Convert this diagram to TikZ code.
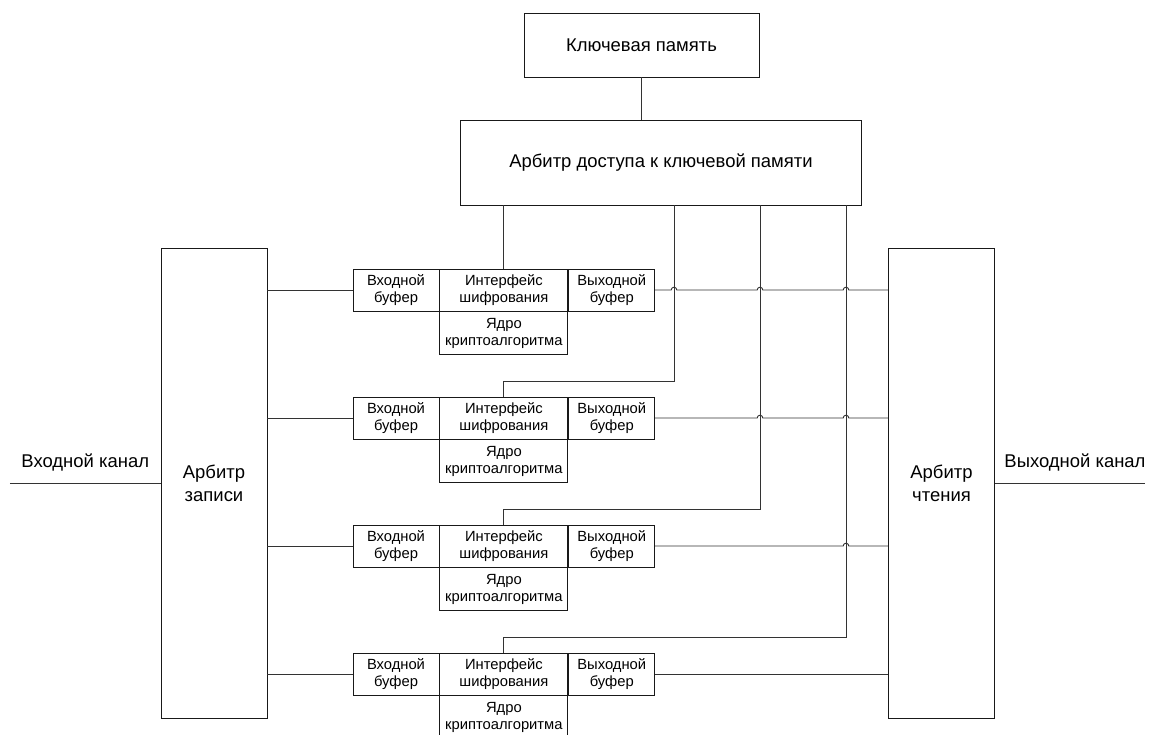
\documentclass[tikz,border=0pt]{standalone}
\usepackage{fontspec}
\setmainfont{Liberation Sans}
\usetikzlibrary{positioning}
\tikzset{
  block/.style={rectangle,draw=black!90,line width=0.5pt,align=center,inner sep=0pt,font=\fontsize{10.5}{13}\selectfont},
  cell/.style={block,minimum height=0.84cm,font=\fontsize{8.4}{10}\selectfont},
  buffer/.style={cell,minimum width=1.72cm},
  iface/.style={cell,minimum width=2.56cm},
  arbiter/.style={block,minimum width=2.12cm,minimum height=9.4cm},
  wire/.style={line width=0.5pt,black!80},
  channel/.style={text=black,font=\fontsize{10.5}{13}\selectfont,inner sep=0pt},
}

\begin{document}
\begin{tikzpicture}
	\useasboundingbox (0,0) rectangle (23.02,-14.68);
	\node[block,minimum width=4.7cm,minimum height=1.28cm] (keymem) at (12.83,-0.9) {Ключевая память};
	\node[block,minimum width=8.02cm,minimum height=1.7cm] (keyarb) at (13.22,-3.25) {Арбитр доступа к ключевой памяти};
	\node[arbiter] (wrarb) at (4.28,-9.66) {Арбитр\\записи};
	\node[arbiter] (rdarb) at (18.83,-9.66) {Арбитр\\чтения};
	\draw[wire] (keymem.south) -- (keymem.south |- keyarb.north);

	% crypto units
	\foreach \i in {1,...,4} {
	    \node[buffer] (inbuf\i) at (7.92,{-5.8-2.56*(\i-1)}) {Входной\\буфер};
	    \node[iface,right=0pt of inbuf\i] (iface\i) {Интерфейс\\шифрования};
	    \node[buffer,right=0pt of iface\i] (outbuf\i) {Выходной\\буфер};
	    \node[iface,minimum height=0.86cm,below=0pt of iface\i] (core\i) {Ядро\\криптоалгоритма};
	    \draw[wire] (wrarb.east |- inbuf\i.west) -- (inbuf\i.west);
	}

	% key taps
	\coordinate (key1) at (iface1.north |- keyarb.south);
	\coordinate (key2) at (13.48,-4.1);
	\coordinate (key3) at (15.2,-4.1);
	\coordinate (key4) at (16.92,-4.1);
	\draw[wire] (key1) -- (iface1.north);
	\draw[wire] (key2) |- ([yshift=0.3cm]iface2.north) -- (iface2.north);
	\draw[wire] (key3) |- ([yshift=0.3cm]iface3.north) -- (iface3.north);
	\draw[wire] (key4) |- ([yshift=0.3cm]iface4.north) -- (iface4.north);

	% outputs, hopping over the key taps
	\draw[wire] (outbuf1.east) \foreach \k in {2,3,4} { -- ([xshift=-1.6pt]key\k |- outbuf1.east) arc[start angle=180,end angle=0,radius=1.6pt] } -- (rdarb.west |- outbuf1.east);
	\draw[wire] (outbuf2.east) \foreach \k in {3,4} { -- ([xshift=-1.6pt]key\k |- outbuf2.east) arc[start angle=180,end angle=0,radius=1.6pt] } -- (rdarb.west |- outbuf2.east);
	\draw[wire] (outbuf3.east) -- ([xshift=-1.6pt]key4 |- outbuf3.east) arc[start angle=180,end angle=0,radius=1.6pt] -- (rdarb.west |- outbuf3.east);
	\draw[wire] (outbuf4.east) -- (rdarb.west |- outbuf4.east);

	% channels
	\coordinate (inch) at (0.2,-9.66);
	\coordinate (outch) at (22.9,-9.66);
	\draw[wire] (inch) -- (wrarb.west) node[channel,midway,above=0.22cm] (inlabel) {Входной канал};
	\draw[wire] (rdarb.east) -- (outch) node[channel,midway,above=0.22cm,xshift=0.1cm] (outlabel) {Выходной канал};
\end{tikzpicture}
\end{document}
